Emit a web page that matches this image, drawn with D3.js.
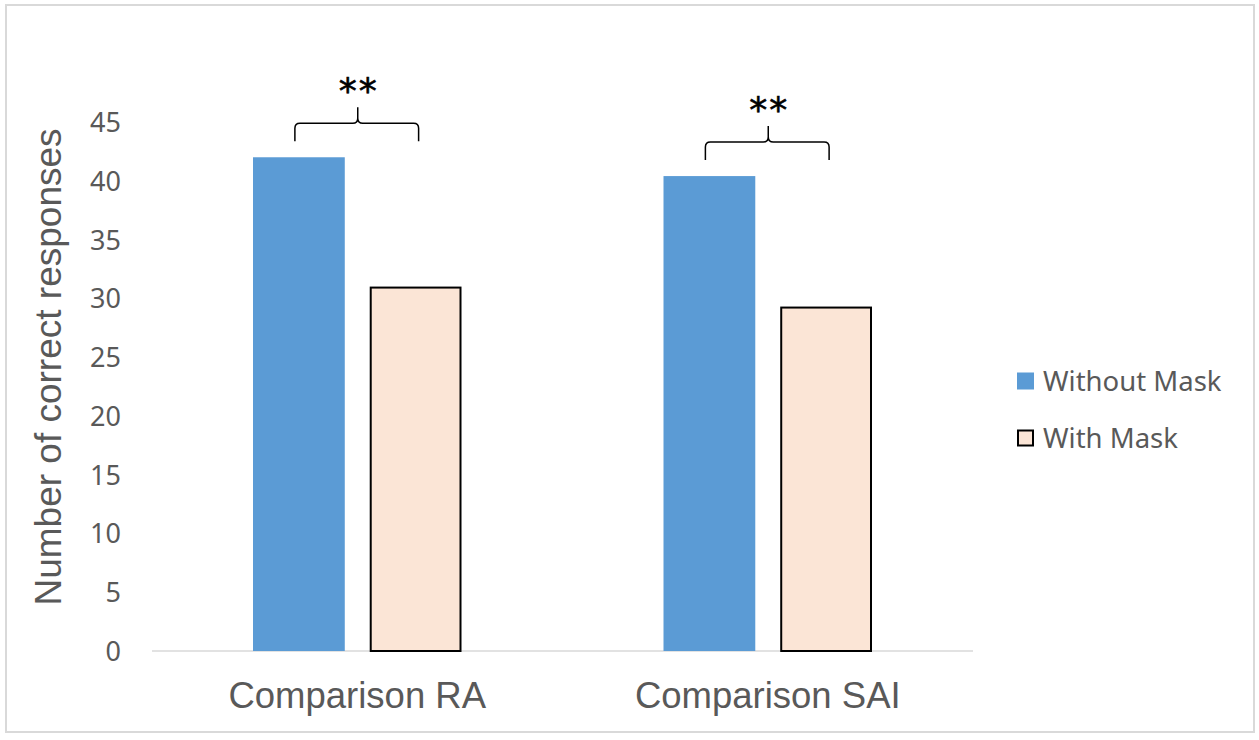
<!DOCTYPE html>
<html><head><meta charset="utf-8">
<script src="https://cdn.jsdelivr.net/npm/d3@7"></script>
<style>body{margin:0;background:#fff}svg{display:block}</style>
</head><body>
<script>
const categories = ["Comparison RA", "Comparison SAI"];
const seriesNames = ["Without Mask", "With Mask"];
const withoutMask = [42.0, 40.4];
const withMask = [31.0, 29.3];
const yTicks = [0, 5, 10, 15, 20, 25, 30, 35, 40, 45];
const sigLabels = ["**", "**"];
const colors = ["#5b9bd5", "#fbe5d6"];

const W = 1259, H = 740;
const svg = d3.select("body").append("svg").attr("width", W).attr("height", H);
svg.append("rect").attr("x", 6).attr("y", 5).attr("width", 1248).attr("height", 727)
  .attr("fill", "#fff").attr("stroke", "#d9d9d9").attr("stroke-width", 2);

const x0 = d3.scaleBand().domain(categories).range([152, 973]);
const x1 = d3.scaleBand().domain(seriesNames).range([101, x0.bandwidth() - 101]).paddingInner(0.2137).paddingOuter(0);
const y = d3.scaleLinear().domain([0, 45]).range([651, 122]);

// axis line
svg.append("line").attr("x1", 152).attr("x2", 973).attr("y1", y(0)).attr("y2", y(0))
  .attr("stroke", "#d9d9d9").attr("stroke-width", 1.5);

// y ticks
const yAxis = d3.axisLeft(y).tickValues(yTicks).tickSize(0).tickPadding(0);
const ga = svg.append("g").attr("transform", "translate(121,0)").call(yAxis);
ga.select(".domain").remove();
ga.selectAll("text").attr("font-family", "Noto Sans, sans-serif").attr("font-size", 27).attr("fill", "#595959").attr("dy", "0.35em");

// bars
const data = categories.map((c, i) => ({c, vals: [withoutMask[i], withMask[i]]}));
const g = svg.append("g");
data.forEach(d => {
  d.vals.forEach((v, j) => {
    const s = seriesNames[j];
    const r = g.append("rect")
      .attr("x", x0(d.c) + x1(s)).attr("width", x1.bandwidth())
      .attr("y", y(v)).attr("height", y(0) - y(v))
      .attr("fill", colors[j]);
    if (j === 1) r.attr("stroke", "#000").attr("stroke-width", 2)
      .attr("x", x0(d.c) + x1(s) + 1).attr("width", x1.bandwidth() - 2)
      .attr("y", y(v) + 1).attr("height", y(0) - y(v) - 1);
  });
});

// brackets + stars
data.forEach((d, i) => {
  const xl = x0(d.c) + x1(seriesNames[0]) + x1.bandwidth() / 2 - 4;
  const xr = x0(d.c) + x1(seriesNames[1]) + x1.bandwidth() / 2 + 3;
  const xm = (xl + xr) / 2 + 1;
  const top = y(d3.max(d.vals));
  const hy = top - 34, endY = top - 16, tipY = top - 50;
  const r = 5;
  const p = `M${xl},${endY} L${xl},${hy + r} Q${xl},${hy} ${xl + r},${hy} L${xm - r},${hy} Q${xm},${hy} ${xm},${hy - r} L${xm},${tipY} M${xm},${hy - r} Q${xm},${hy} ${xm + r},${hy} L${xr - r},${hy} Q${xr},${hy} ${xr},${hy + r} L${xr},${endY}`;
  svg.append("path").attr("d", p).attr("fill", "none").attr("stroke", "#000").attr("stroke-width", 1.5);
  svg.append("text").attr("x", xm + 1).attr("y", tipY - 4).attr("text-anchor", "middle")
    .attr("font-family", "DejaVu Sans, sans-serif").attr("font-size", 36).attr("letter-spacing", 2)
    .attr("fill", "#000").attr("stroke", "#000").attr("stroke-width", 0.6)
    .text(sigLabels[i]);
});

// category labels
categories.forEach(c => {
  svg.append("text").attr("x", x0(c) + x0.bandwidth() / 2).attr("y", 708).attr("text-anchor", "middle")
    .attr("font-family", "Liberation Sans, Arial, sans-serif").attr("font-size", 36.5).attr("fill", "#595959").text(c);
});

// y title
svg.append("text").attr("transform", "translate(61,367) rotate(-90)").attr("text-anchor", "middle")
  .attr("font-family", "Liberation Sans, Arial, sans-serif").attr("font-size", 37).attr("fill", "#595959")
  .text("Number of correct responses");

// legend
seriesNames.forEach((s, i) => {
  const ly = 381 + i * 57;
  const sq = svg.append("rect").attr("x", 1017).attr("y", ly - 8.5).attr("width", 17).attr("height", 17).attr("fill", colors[i]);
  if (i === 1) sq.attr("stroke", "#000").attr("stroke-width", 2).attr("x", 1018).attr("y", ly - 7.5).attr("width", 15).attr("height", 15);
  svg.append("text").attr("x", 1043).attr("y", ly).attr("dy", "0.35em")
    .attr("font-family", "Noto Sans, sans-serif").attr("font-size", 27.5).attr("fill", "#595959").text(s);
});
</script>
</body></html>
